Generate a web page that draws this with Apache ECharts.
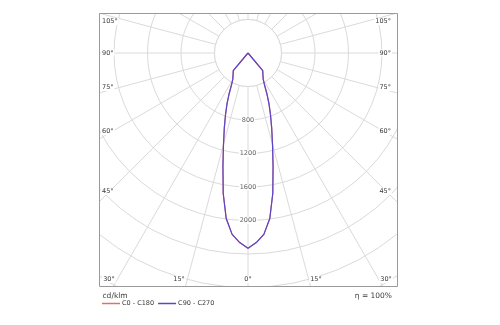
<!DOCTYPE html>
<html>
<head>
<meta charset="utf-8">
<script src="https://cdn.jsdelivr.net/npm/echarts@6/dist/echarts.min.js"></script>
<style>
html,body{margin:0;padding:0;background:#fff;}
#chart{width:500px;height:325px;}
</style>
</head>
<body>
<div id="chart"></div>
<script>
// ---- data (cd/klm vs gamma angle, degrees) ----
const gammaAngles = [0, 2.5, 5, 7.5, 10, 12.5, 15, 17.5, 20, 22.5, 25, 27.5, 30, 32.5, 35, 37.5, 40, 45, 90, 135, 180];
const c0c180Values = [2332, 2266, 2174, 1993, 1704, 1383, 1131, 941, 785, 654, 530, 425, 364, 334, 310, 290, 274, 0, 0, 0, 0];
const c90c270Values = [2332, 2266, 2174, 1993, 1704, 1383, 1131, 941, 785, 654, 530, 425, 364, 334, 310, 290, 274, 0, 0, 0, 0];
const radiusTickLabels = [800, 1200, 1600, 2000];
const bottomAngleLabels = [0, 15, 30];
const sideAngleLabels = [45, 60, 75, 90, 105];
const seriesNames = ['C0 - C180', 'C90 - C270'];
const unitText = 'cd/klm';
const efficiencyText = 'η = 100%';

// ---- layout ----
const CX = 248, CY = 53;
const BOX = {l: 99, t: 13, r: 397, b: 286};
const R_MAX = 3600, STEP = 400, PX_PER_STEP = 33.5;
const FONT = 'DejaVu Sans';
const TXT = '#3a3a3a';
const GRID = '#dadada';

function curve(values) {
  const pts = [];
  for (let i = gammaAngles.length - 1; i >= 0; i--) pts.push([values[i], gammaAngles[i]]);
  for (let i = 0; i < gammaAngles.length; i++) pts.push([values[i], 360 - gammaAngles[i]]);
  return pts;
}

const chart = echarts.init(document.getElementById('chart'), null, {renderer: 'canvas'});

const graphics = [];
graphics.push({type: 'circle', z: 1, silent: true, shape: {cx: CX, cy: CY, r: PX_PER_STEP},
  style: {fill: '#fff', stroke: GRID, lineWidth: 1}});
const W = 500, H = 325;
[[0, 0, W, BOX.t], [0, BOX.b, W, H - BOX.b], [0, 0, BOX.l, H], [BOX.r, 0, W - BOX.r, H]].forEach(r => {
  graphics.push({type: 'rect', z: 50, silent: true, shape: {x: r[0], y: r[1], width: r[2], height: r[3]}, style: {fill: '#fff'}});
});
graphics.push({type: 'rect', z: 51, silent: true,
  shape: {x: BOX.l + 0.5, y: BOX.t + 0.5, width: BOX.r - BOX.l, height: BOX.b - BOX.t},
  style: {fill: null, stroke: '#9a9a9a', lineWidth: 1}});

function label(text, x, y, align, valign) {
  graphics.push({type: 'text', z: 52, silent: true, x: x, y: y,
    style: {text: text, fill: TXT, fontSize: 6.5, fontFamily: FONT, align: align, verticalAlign: valign,
      backgroundColor: '#fff', padding: [0, 1]}});
}
const deg = Math.PI / 180;
const yb = 279.5;
bottomAngleLabels.forEach(a => {
  const dx = (yb - CY) * Math.tan(a * deg);
  if (a === 0) { label(a + '°', CX, yb, 'center', 'middle'); return; }
  label(a + '°', CX - dx - 1.5, yb, 'right', 'middle');
  label(a + '°', CX + dx + 0.5, yb, 'left', 'middle');
});
sideAngleLabels.forEach(a => {
  const dy = 142 / Math.tan(a * deg);
  let y = CY + (a === 90 ? 0 : dy);
  let va = a < 90 ? 'bottom' : (a > 90 ? 'top' : 'middle');
  if (a > 90) y += 3;
  label(a + '°', BOX.l + 2, y, 'left', va);
  label(a + '°', BOX.r - 5, y, 'right', va);
});
graphics.push({type: 'text', z: 52, silent: true, x: 102.5, y: 296,
  style: {text: unitText, fill: TXT, fontSize: 7.5, fontFamily: FONT, align: 'left', verticalAlign: 'middle'}});
graphics.push({type: 'text', z: 52, silent: true, x: 392, y: 296,
  style: {text: efficiencyText, fill: TXT, fontSize: 7.5, fontFamily: FONT, align: 'right', verticalAlign: 'middle'}});

const option = {
  backgroundColor: '#fff',
  animation: false,
  polar: {center: [CX, CY], radius: [0, PX_PER_STEP * R_MAX / STEP]},
  radiusAxis: {
    type: 'value', min: 0, max: R_MAX, interval: STEP,
    axisLine: {show: false}, axisTick: {show: false}, axisLabel: {show: false},
    splitLine: {show: true, lineStyle: {color: GRID, width: 1}}
  },
  angleAxis: {
    type: 'value', min: 0, max: 360, interval: 15, startAngle: 270, clockwise: true,
    axisLine: {show: false}, axisTick: {show: false}, axisLabel: {show: false},
    splitLine: {show: true, lineStyle: {color: GRID, width: 1}}
  },
  legend: {
    left: 102, top: 300, padding: 0, itemWidth: 18, itemHeight: 1.5, itemGap: 4, z: 60,
    icon: 'rect',
    data: seriesNames,
    textStyle: {fontSize: 6.5, fontFamily: FONT, color: TXT, padding: [0, 0, 0, -3]}
  },
  series: [
    {name: seriesNames[0], type: 'line', coordinateSystem: 'polar', clip: false, symbol: 'none',
      data: curve(c0c180Values), lineStyle: {color: '#e07070', width: 1.2}, itemStyle: {color: '#e07070'}, z: 3},
    {name: seriesNames[1], type: 'line', coordinateSystem: 'polar', clip: false, symbol: 'none',
      data: curve(c90c270Values), lineStyle: {color: '#5a46c8', width: 1.2}, itemStyle: {color: '#5a46c8'}, z: 4},
    {type: 'scatter', coordinateSystem: 'polar', symbolSize: 1, itemStyle: {color: 'rgba(0,0,0,0)'}, silent: true, z: 5,
      data: radiusTickLabels.map(v => [v, 0]),
      label: {show: true, position: 'inside', formatter: p => String(p.value[0]), fontSize: 6.5, fontFamily: FONT,
        color: TXT, backgroundColor: '#fff', padding: [0, 1]}}
  ],
  graphic: {elements: graphics}
};
chart.setOption(option);
</script>
</body>
</html>
